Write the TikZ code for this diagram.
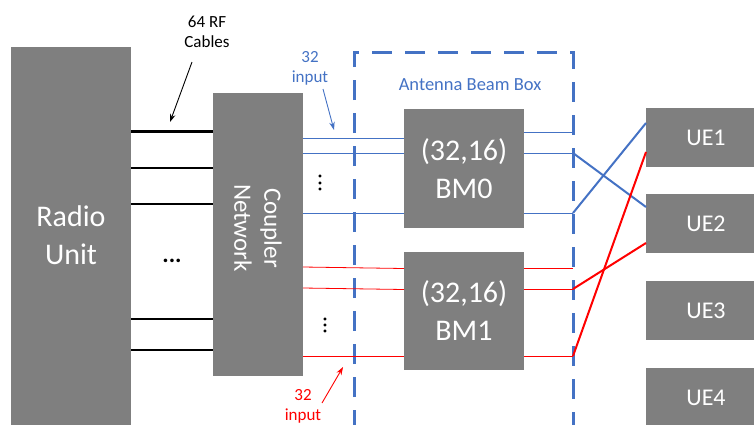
\documentclass[tikz,border=0pt]{standalone}
\usepackage{fontspec}
\setmainfont{Carlito}
\usetikzlibrary{arrows.meta}
\definecolor{gbox}{HTML}{7F7F7F}
\definecolor{bl}{HTML}{4472C4}
\definecolor{rd}{HTML}{FF0000}
\tikzset{
  box/.style={rectangle, fill=gbox, draw=none, inner sep=0pt, outer sep=0pt, text=white, align=center},
  bigtxt/.style={font=\fontsize{30}{38}\selectfont},
  uetxt/.style={font=\fontsize{24}{28}\selectfont},
  smalltxt/.style={align=center, inner sep=0pt, font=\fontsize{17}{20}\selectfont},
  cable/.style={draw=black, line width=2.6pt},
  thinb/.style={draw=bl, line width=0.8pt},
  thinr/.style={draw=rd, line width=0.8pt},
  crossb/.style={draw=bl, line width=2pt},
  crossr/.style={draw=rd, line width=2pt},
  boxline/.style={draw=bl, line width=3pt, dash pattern=on 20pt off 13pt},
  pointer/.style={line width=0.9pt, -{Stealth[length=8pt,width=5.5pt]}},
}
\begin{document}
\begin{tikzpicture}[x=1pt,y=-1pt]
\useasboundingbox (0,0) rectangle (754,424);
% boxes
\node[box, bigtxt, minimum width=120pt, minimum height=380pt] (ru) at (71,237) {};
\node[box, bigtxt, text=white] (rulabel) at (71,235) {Radio\\Unit};
\node[box, minimum width=90pt, minimum height=283pt] (cn) at (258,234.5) {};
\node[rotate=-90, text=white, align=center, inner sep=0pt, font=\fontsize{25}{30}\selectfont] (cnlabel) at (258,228) {Coupler\\Network};
\node[box, bigtxt, minimum width=120pt, minimum height=119pt] (bm0) at (464,168.5) {(32,16)\\BM0};
\node[box, bigtxt, minimum width=120pt, minimum height=118pt] (bm1) at (464,311) {(32,16)\\BM1};
\node[box, uetxt, minimum width=120pt, minimum height=59pt] (ue1) at (706,137.5) {UE1};
\node[box, uetxt, minimum width=120pt, minimum height=59pt] (ue2) at (706,223.5) {UE2};
\node[box, uetxt, minimum width=120pt, minimum height=59pt] (ue3) at (706,310.5) {UE3};
\node[box, uetxt, minimum width=120pt, minimum height=59pt] (ue4) at (706,397.5) {UE4};
% antenna beam box
\draw[boxline] (354,430) -- (354,52) -- (573,52) -- (573,430);
\node[smalltxt, text=bl, font=\fontsize{18.5}{22}\selectfont] (abb) at (470,85) {Antenna Beam Box};
% cables
\foreach \yy in {131.7,168,204,319,350}
  \draw[cable] (ru.east |- 0,\yy) -- (cn.west |- 0,\yy);
\node[inner sep=0pt, font=\bfseries\fontsize{24}{24}\selectfont] (hdots) at (172,261) {...};
% blue lines
\foreach \yy in {138,153,213}
  \draw[thinb] (cn.east |- 0,\yy) -- (bm0.west |- 0,\yy);
\foreach \yy in {132,153,213}
  \draw[thinb] (bm0.east |- 0,\yy) -- (573,\yy);
% red lines
\draw[thinr] (cn.east |- 0,267) -- (bm1.west |- 0,268.5);
\draw[thinr] (cn.east |- 0,288) -- (bm1.west |- 0,289.5);
\draw[thinr] (cn.east |- 0,356) -- (bm1.west |- 0,356);
\foreach \yy in {268,289,356}
  \draw[thinr] (bm1.east |- 0,\yy) -- (573,\yy);
% crossing lines
\coordinate (p0b) at (573,153);
\coordinate (p1b) at (573,213);
\coordinate (p0r) at (573,289);
\coordinate (p1r) at (573,356);
\draw[crossb] (p0b) -- (ue2.west |- 0,207);
\draw[crossb] (p1b) -- (ue1.west |- 0,123);
\draw[crossr] (p0r) -- (ue2.west |- 0,243);
\draw[crossr] (p1r) -- (ue1.west |- 0,152);
% vertical dots
\node[inner sep=0pt] (vd0) at (320,183) {\rotatebox{90}{\fontsize{24}{24}\selectfont ...}};
\node[inner sep=0pt] (vd1) at (325,325) {\rotatebox{90}{\fontsize{24}{24}\selectfont ...}};
% labels and pointers
\node[smalltxt] (rf) at (207,32) {64 RF\\Cables};
\coordinate (rfs) at (192,62);
\coordinate (rft) at (170,122);
\draw[pointer] (rfs) -- (rft);
\node[smalltxt, text=bl] (inb) at (310,68) {32\\input};
\coordinate (inbs) at (323,89);
\coordinate (inbt) at (334,130);
\draw[pointer, bl] (inbs) -- (inbt);
\node[smalltxt, text=rd] (inr) at (303,406.5) {32\\input};
\coordinate (inrs) at (322,403);
\coordinate (inrt) at (343,367);
\draw[pointer, rd] (inrs) -- (inrt);
\end{tikzpicture}
\end{document}
